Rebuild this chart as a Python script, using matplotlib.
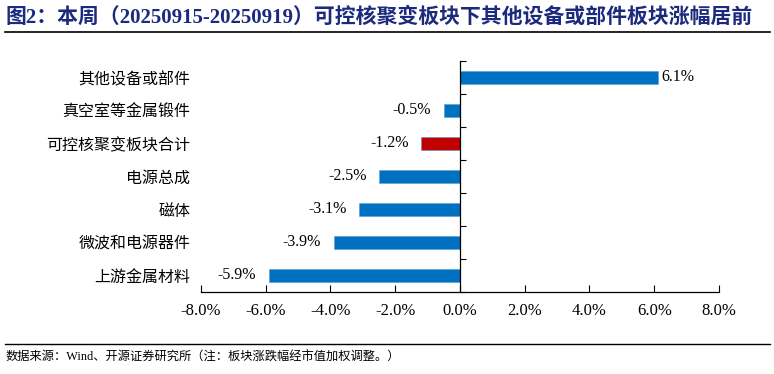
import numpy as np
import matplotlib
matplotlib.use('Agg')
import matplotlib.pyplot as plt
from matplotlib.lines import Line2D
from matplotlib.ticker import FixedLocator

plt.rcParams['font.family'] = ['Liberation Serif', 'Noto Sans CJK SC', 'DejaVu Sans']

# data (top to bottom as shown)
categories = ['其他设备或部件', '真空室等金属锻件', '可控核聚变板块合计', '电源总成',
              '磁体', '微波和电源器件', '上游金属材料']
changes = [6.1, -0.5, -1.2, -2.5, -3.1, -3.9, -5.9]
highlight = '可控核聚变板块合计'
xticks = [-8, -6, -4, -2, 0, 2, 4, 6, 8]

title = '图2：本周（20250915-20250919）可控核聚变板块下其他设备或部件板块涨幅居前'
source = '数据来源：Wind、开源证券研究所（注：板块涨跌幅经市值加权调整。）'

BLUE = '#0070C0'
RED = '#C00000'
NAVY = '#1C2A7E'

fig = plt.figure(figsize=(7.74, 3.74), dpi=100)
ax = fig.add_axes([0.2594, 0.2193, 0.929 - 0.2594, 0.8369 - 0.2193])

y = np.arange(len(categories))[::-1]
colors = [RED if c == highlight else BLUE for c in categories]
ax.barh(y, changes, height=0.42, color=colors, edgecolor='#5B9BD5', linewidth=0.4, zorder=2)

for yi, v in zip(y, changes):
    if v >= 0:
        ax.annotate(f'{v:.1f}%', (v, yi), xytext=(3, 0), textcoords='offset points',
                    ha='left', va='center', fontsize=11.5)
    else:
        ax.annotate(f'{v:.1f}%', (v, yi), xytext=(-9, 0), textcoords='offset points',
                    ha='right', va='center', fontsize=11.5)

ax.set_xlim(-8, 8)
ax.set_ylim(-0.5, len(categories) - 0.5)

# spines: y axis drawn at zero, category labels stay on the left
ax.spines['left'].set_visible(False)
ax.spines['top'].set_visible(False)
ax.spines['right'].set_position(('data', 0))
ax.spines['right'].set_zorder(3)
for s in ['right', 'bottom']:
    ax.spines[s].set_linewidth(0.9)

ax.set_xticks(xticks)
ax.set_yticks(y)
ax.yaxis.set_minor_locator(FixedLocator(np.arange(-0.5, len(categories), 1.0)))
ax.tick_params(axis='y', which='major', left=False, right=False, labelleft=True,
               labelright=False, pad=4)
ax.tick_params(axis='y', which='minor', left=False, right=True, direction='out',
               length=4, width=0.8)
ax.tick_params(axis='x', direction='in', length=5, width=0.8, pad=8)

# labels after tick_params so their font settings stick
ax.set_xticklabels([f'{t:.1f}%' for t in xticks], fontsize=12)
ax.set_yticklabels(categories, fontsize=11.5, family=['Noto Sans CJK SC'])

fig.text(0.007, 0.953, title, fontsize=15, fontweight='bold', color=NAVY,
         ha='left', va='center')
fig.add_artist(Line2D([0.006, 0.995], [0.914, 0.914], color='black', linewidth=1.2))
fig.add_artist(Line2D([0.006, 0.995], [0.080, 0.080], color='black', linewidth=1.0))
fig.text(0.007, 0.045, source, fontsize=8.8, ha='left', va='center')

fig.savefig('out.png', dpi=100)
